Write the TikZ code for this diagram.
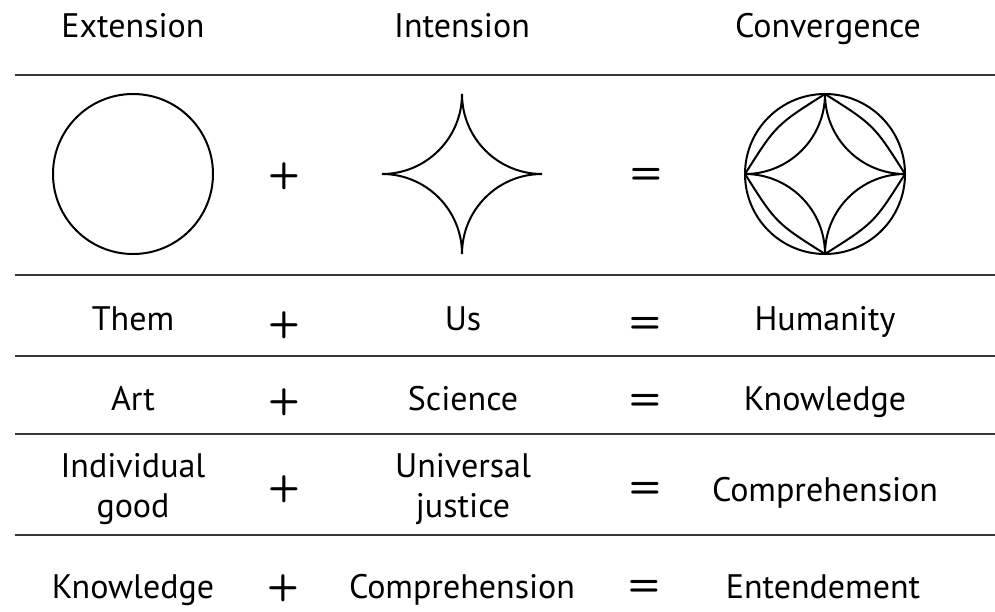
\documentclass[tikz,border=0pt]{standalone}
\usepackage{fontspec}
\setmainfont{PT Sans}
\begin{document}
\begin{tikzpicture}[x=1pt,y=-1pt,
  lbl/.style={font=\fontsize{34}{40}\selectfont, inner sep=0pt, anchor=base},
  op/.style={font=\sffamily\bfseries\fontsize{37}{40}\selectfont, inner sep=0pt},
  rule/.style={line width=2.8pt, draw=black!78},
  shp/.style={line width=2pt, draw=black},
  astroid/.pic={\draw[shp] (0,-80) arc[start angle=180,end angle=90,radius=80]
     arc[start angle=270,end angle=180,radius=80]
     arc[start angle=360,end angle=270,radius=80]
     arc[start angle=90,end angle=0,radius=80] -- cycle;}]
\useasboundingbox (0,0) rectangle (995,611);
% headers
\node[lbl] (h1) at (133,37) {Extension};
\node[lbl] (h2) at (462,37) {Intension};
\node[lbl] (h3) at (828,37) {Convergence};
% rules
\draw[rule] (15,75) -- (995,75);
\draw[rule] (15,275) -- (995,275);
\draw[rule] (15,356) -- (995,356);
\draw[rule] (15,434) -- (995,434);
\draw[rule] (15,535) -- (995,535);
% shapes row
\draw[shp] (133,174) circle[radius=80];
\pic at (462,174) {astroid};
\begin{scope}[shift={(825,174)}]
  \draw[shp] (0,0) circle[radius=80];
  \pic at (0,0) {astroid};
  \draw[shp] (0,-80) .. controls (-49,-49) .. (-80,0);
  \draw[shp] (0,-80) .. controls (49,-49) .. (80,0);
  \draw[shp] (0,80) .. controls (-49,49) .. (-80,0);
  \draw[shp] (0,80) .. controls (49,49) .. (80,0);
\end{scope}
\node[op] (p0) at (284,176) {+};
\node[op] (e0) at (646,176) {=};
% row 1
\node[lbl] (r1a) at (133,330) {Them};
\node[op] (r1p) at (284,325) {+};
\node[lbl] (r1b) at (463,330) {Us};
\node[op] (r1e) at (645,325) {=};
\node[lbl] (r1c) at (825,330) {Humanity};
% row 2
\node[lbl] (r2a) at (133,410) {Art};
\node[op] (r2p) at (284,402) {+};
\node[lbl] (r2b) at (463,410) {Science};
\node[op] (r2e) at (645,402) {=};
\node[lbl] (r2c) at (825,410) {Knowledge};
% row 3
\node[lbl] (r3a1) at (133,477) {Individual};
\node[lbl] (r3a2) at (133,517) {good};
\node[op] (r3p) at (284,489) {+};
\node[lbl] (r3b1) at (463,477) {Universal};
\node[lbl] (r3b2) at (463,517) {justice};
\node[op] (r3e) at (645,490) {=};
\node[lbl] (r3c) at (825,501) {Comprehension};
% row 4
\node[lbl] (r4a) at (133,598) {Knowledge};
\node[op] (r4p) at (283,588) {+};
\node[lbl] (r4b) at (462,598) {Comprehension};
\node[op] (r4e) at (644,588) {=};
\node[lbl] (r4c) at (823,598) {Entendement};
\end{tikzpicture}
\end{document}
